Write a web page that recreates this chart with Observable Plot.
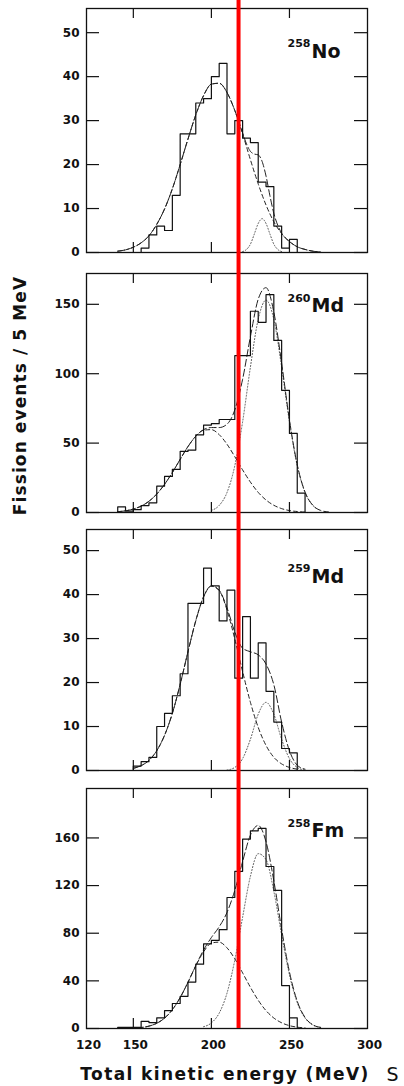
<!DOCTYPE html>
<html><head><meta charset="utf-8">
<script src="https://cdn.jsdelivr.net/npm/d3@7"></script>
<script src="https://cdn.jsdelivr.net/npm/@observablehq/plot@0.6"></script>
<style>
body{margin:0;background:#fff;}
#chart{position:relative;width:404px;height:1086px;overflow:hidden;background:#fff;}
.layer{position:absolute;left:0;}
</style></head><body><div id="chart"></div>
<script>
// ---------------- data ----------------
const energyDomain = [120, 300];
const energyTicks = [120, 150, 200, 250, 300];
const frameTicks = [150, 200, 250];
const redLineEnergy = 217.4;
const binWidth = 5;
const xTitle = "Total kinetic energy (MeV)";
const yTitle = "Fission events / 5 MeV";
const cornerText = "S";
const massNumbers = ["258", "260", "259", "258"];
const elements = ["No", "Md", "Md", "Fm"];

// 258No
const no258YTicks = [0, 10, 20, 30, 40, 50];
const no258Start = 155;
const no258Counts = [1, 4, 6, 5, 13, 27, 27, 34, 35, 40, 43, 27, 30, 26, 25, 16, 15, 6, 1, 3];
const no258Main = [[140,0.3],[145,0.6],[150,1.2],[155,2.2],[160,3.8],[165,6.4],[170,9.9],[175,14.5],[180,20],[185,25.8],[190,31.3],[195,35.7],[200,38.3],[205,38.5],[210,36.4],[215,32.3],[220,27],[225,21.1],[230,15.6],[235,10.8],[240,7],[245,4.3],[250,2.5],[255,1.3],[260,0.7],[265,0.3],[270,0.1]];
const no258Minor = [[220,0.2],[222.5,0.7],[225,1.9],[227.5,4.2],[230,6.6],[232.5,7.7],[235,6.6],[237.5,4.2],[240,1.9],[242.5,0.7],[245,0.2]];
const no258Total = [[140,0.3],[145,0.6],[150,1.2],[155,2.2],[160,3.8],[165,6.4],[170,9.9],[175,14.5],[180,20],[185,25.8],[190,31.3],[195,35.7],[200,38.3],[205,38.5],[210,36.4],[215,32.3],[220,27.2],[222.5,24.7],[225,23],[227.5,22.4],[230,22.2],[232.5,20.7],[235,17.4],[237.5,12.9],[240,8.9],[242.5,6.2],[245,4.4],[250,2.5],[255,1.3],[260,0.7],[265,0.3],[270,0.1]];

// 260Md
const md260YTicks = [0, 50, 100, 150];
const md260Start = 140;
const md260Counts = [4, 1, 2, 5, 7, 19, 26, 31, 44, 45, 56, 63, 64, 67, 67, 113, 113, 145, 137, 157, 124, 88, 57, 14];
const md260Main = [[140,0.6],[145,1.2],[150,2.5],[155,4.6],[160,8.1],[165,13.3],[170,20.3],[175,28.8],[180,38.3],[185,47.5],[190,54.9],[195,59.3],[200,59.7],[205,56.1],[210,49.2],[215,40.2],[220,30.7],[225,21.9],[230,14.5],[235,9],[240,5.2],[245,2.8],[250,1.4],[255,0.7],[260,0.3]];
const md260Minor = [[200,1.5],[205,5.1],[210,14.4],[215,33.7],[220,65.3],[225,104.8],[230,139.2],[235,153],[240,139.2],[245,104.8],[250,65.3],[255,33.7],[260,14.4],[265,5.1],[270,1.5]];
const md260Total = [[140,0.6],[145,1.2],[150,2.5],[155,4.6],[160,8.1],[165,13.3],[170,20.3],[175,28.8],[180,38.3],[185,47.5],[190,55],[195,59.7],[200,61.2],[205,61.2],[210,63.6],[215,73.9],[220,96],[225,126.7],[230,153.7],[235,162],[240,144.4],[245,107.6],[250,66.7],[255,34.4],[260,14.7],[265,5.2],[270,1.5],[275,0.4]];

// 259Md
const md259YTicks = [0, 10, 20, 30, 40, 50];
const md259Start = 150;
const md259Counts = [1, 2, 3, 10, 13, 17, 22, 38, 38, 46, 42, 34, 41, 21, 35, 21, 29, 18, 11, 5, 4];
const md259Main = [[150,0.5],[155,1.1],[160,2.3],[165,4.5],[170,8],[175,13],[180,19.6],[185,27],[190,34.1],[195,39.5],[200,41.9],[205,40.9],[210,36.5],[215,29.9],[220,22.5],[225,15.5],[230,9.8],[235,5.7],[240,3],[245,1.5],[250,0.7],[255,0.3]];
const md259Minor = [[210,0.1],[215,0.7],[220,2.7],[225,7.1],[230,12.8],[235,15.5],[240,12.8],[245,7.1],[250,2.7],[255,0.7],[260,0.1]];
const md259Total = [[150,0.5],[155,1.1],[160,2.3],[165,4.5],[170,8],[175,13],[180,19.6],[185,27],[190,34],[195,39.5],[200,42],[205,41],[210,37],[215,31.5],[220,27.8],[225,27],[230,26.3],[235,24.2],[240,19.5],[245,11],[250,4.5],[255,1.2],[260,0.3]];

// 258Fm
const fm258YTicks = [0, 40, 80, 120, 160];
const fm258Start = 140;
const fm258Counts = [1, 1, 1, 6, 5, 9, 15, 21, 27, 39, 54, 71, 74, 83, 110, 132, 159, 166, 168, 136, 116, 36, 9];
const fm258Main = [[145,0.1],[150,0.3],[155,0.8],[160,2],[165,4.4],[170,8.7],[175,15.8],[180,26],[185,38.8],[190,52.5],[195,64.4],[200,71.7],[205,72.5],[210,67.7],[215,58.5],[220,46.7],[225,34.6],[230,23.7],[235,15],[240,8.8],[245,4.8],[250,2.4],[255,1.1],[260,0.5]];
const fm258Minor = [[195,1.5],[200,4.7],[205,12.9],[210,29.7],[215,57.5],[220,93.5],[225,127.8],[230,146.8],[235,141.8],[240,115.2],[245,78.6],[250,45.1],[255,21.8],[260,8.8],[265,3],[270,0.9]];
const fm258Total = [[145,0.1],[150,0.3],[155,0.8],[160,2],[165,4.4],[170,8.7],[175,15.8],[180,26],[185,38.8],[190,52.9],[195,65.9],[200,76.4],[205,85.4],[210,97.4],[215,116],[220,140.2],[225,162.4],[230,170.5],[235,156.8],[240,124],[245,83.4],[250,47.5],[255,22.9],[260,9.3],[265,3.1],[270,0.9]];

// ---------------- layout ----------------
const W = 404, H = 1086;
const mLeft = 86, mRight = 37;
const FONT = "DejaVu Sans";
const panels = [
  {top: 8,   bottom: 252,  yMax: 55.5,  yTicks: no258YTicks, start: no258Start, counts: no258Counts, main: no258Main, minor: no258Minor, total: no258Total, labelDy: 49.3},
  {top: 273, bottom: 512,  yMax: 172.2, yTicks: md260YTicks, start: md260Start, counts: md260Counts, main: md260Main, minor: md260Minor, total: md260Total, labelDy: 38.7},
  {top: 529, bottom: 770,  yMax: 54.8,  yTicks: md259YTicks, start: md259Start, counts: md259Counts, main: md259Main, minor: md259Minor, total: md259Total, labelDy: 53.3},
  {top: 788, bottom: 1028, yMax: 201.5, yTicks: fm258YTicks, start: fm258Start, counts: fm258Counts, main: fm258Main, minor: fm258Minor, total: fm258Total, labelDy: 48.7}
];

function histLine(start, counts) {
  const pts = [{e: start, v: 0}];
  counts.forEach((c, i) => pts.push({e: start + i * binWidth, v: c}));
  const end = start + counts.length * binWidth;
  pts.push({e: end, v: counts[counts.length - 1]});
  pts.push({e: end, v: 0});
  return pts;
}

const chart = document.getElementById("chart");
const ink = "#111";

panels.forEach((p, k) => {
  const h = p.bottom - p.top;
  const pad = 4;
  const fw = W - mLeft - mRight;
  const svg = Plot.plot({
    width: W, height: h + 2 * pad,
    marginLeft: mLeft, marginRight: mRight, marginTop: pad, marginBottom: pad,
    x: {domain: energyDomain, axis: null},
    y: {domain: [0, p.yMax]},
    style: {fontFamily: FONT, fontSize: "12px", fontWeight: "bold", background: "transparent", color: ink, overflow: "visible"},
    marks: [
      Plot.line(p.minor, {x: d => d[0], y: d => d[1], curve: "monotone-x", stroke: "#555", strokeWidth: 1, strokeDasharray: "1,2"}),
      Plot.line(p.main, {x: d => d[0], y: d => d[1], curve: "monotone-x", stroke: "#222", strokeWidth: 1, strokeDasharray: "4,3"}),
      Plot.line(p.total, {x: d => d[0], y: d => d[1], curve: "monotone-x", stroke: "#222", strokeWidth: 1, strokeDasharray: "7,3"}),
      Plot.line(histLine(p.start, p.counts), {x: "e", y: "v", curve: "step-after", stroke: ink, strokeWidth: 1.2}),
      Plot.tickY(p.yTicks, {y: d => d, insetRight: fw - 13, stroke: ink, strokeWidth: 1.2}),
      Plot.tickY(p.yTicks, {y: d => d, insetLeft: fw - 13, stroke: ink, strokeWidth: 1.2}),
      Plot.tickX(frameTicks, {x: d => d, insetBottom: h - 10, stroke: ink, strokeWidth: 1.2}),
      Plot.tickX(frameTicks, {x: d => d, insetTop: h - 10, stroke: ink, strokeWidth: 1.2}),
      Plot.axisY(p.yTicks, {tickSize: 0, tickPadding: 7, label: null, fontSize: 12}),
      Plot.frame({stroke: ink, strokeWidth: 1.3}),
      Plot.text([massNumbers[k]], {text: d => d, frameAnchor: "top-left", dx: 224, dy: p.labelDy - 10.6, textAnchor: "end", lineAnchor: "bottom", fontSize: 11}),
      Plot.text([elements[k]], {text: d => d, frameAnchor: "top-left", dx: 225, dy: p.labelDy, textAnchor: "start", lineAnchor: "bottom", fontSize: 19})
    ]
  });
  const div = document.createElement("div");
  div.className = "layer";
  div.style.top = (p.top - pad) + "px";
  div.appendChild(svg);
  chart.appendChild(div);
});

// overlay: red marker line, x tick labels, axis titles
const overlay = Plot.plot({
  width: W, height: H,
  marginLeft: mLeft, marginRight: mRight, marginTop: 0, marginBottom: H - 1028,
  x: {domain: energyDomain},
  style: {fontFamily: FONT, fontSize: "12px", fontWeight: "bold", background: "transparent", color: ink, overflow: "visible"},
  marks: [
    Plot.ruleX([redLineEnergy], {x: d => d, stroke: "#ff0000", strokeWidth: 4}),
    Plot.axisX(energyTicks, {tickSize: 0, tickPadding: 12, dx: 2, label: null, fontSize: 12}),
    Plot.text([xTitle], {text: d => d, frameAnchor: "bottom", dx: -2, dy: 51, textAnchor: "middle", lineAnchor: "bottom", fontSize: 17}),
    Plot.text([yTitle], {text: d => d, frameAnchor: "left", dx: 20 - mLeft, dy: 395 - 514, rotate: -90, textAnchor: "middle", lineAnchor: "middle", fontSize: 17}),
    Plot.text([cornerText], {text: d => d, frameAnchor: "bottom-right", dx: 19, dy: 52, textAnchor: "start", lineAnchor: "bottom", fontSize: 19, fontWeight: "normal"})
  ]
});
overlay.querySelectorAll("text").forEach(t => {
  if (t.textContent === xTitle) t.setAttribute("letter-spacing", "1.4");
  if (t.textContent === yTitle) t.setAttribute("letter-spacing", "1.1");
});
const ov = document.createElement("div");
ov.className = "layer";
ov.style.top = "0px";
ov.style.pointerEvents = "none";
ov.appendChild(overlay);
chart.appendChild(ov);
</script>
</body></html>
